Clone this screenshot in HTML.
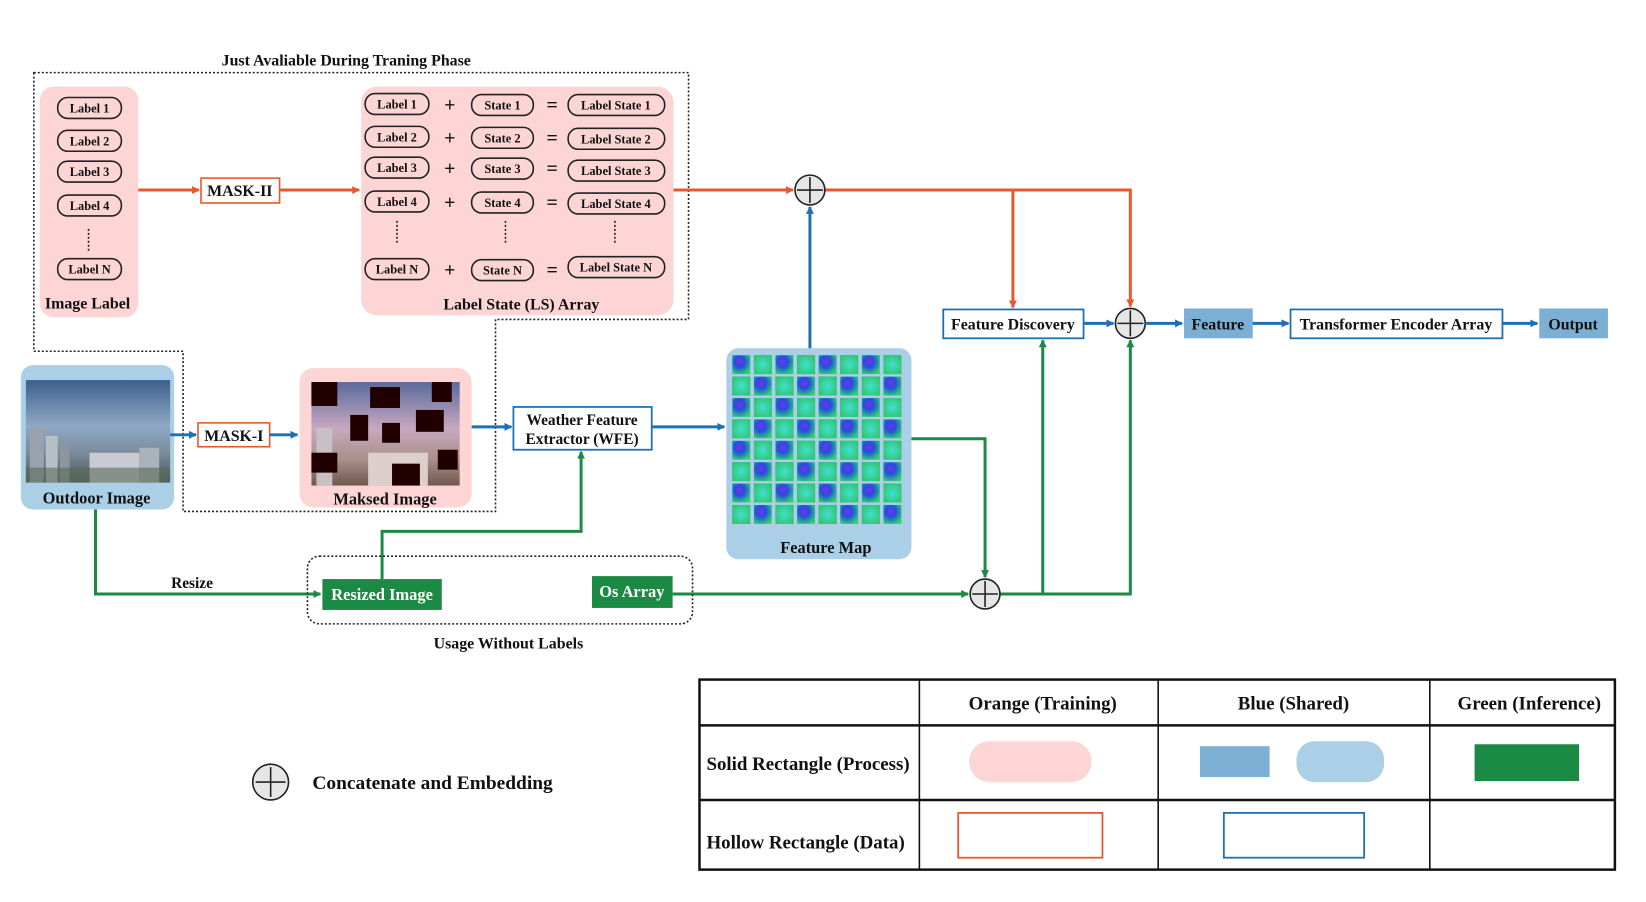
<!DOCTYPE html>
<html><head><meta charset="utf-8"><style>
html,body{margin:0;padding:0;background:#fff;}
svg{display:block;}
text{font-family:"Liberation Serif",serif;font-weight:bold;fill:#111;}
</style></head><body>
<svg width="1646" height="902" viewBox="0 0 1646 902" xmlns="http://www.w3.org/2000/svg">
<defs>
<marker id="ao" markerWidth="8" markerHeight="8" refX="7" refY="4" orient="auto" markerUnits="userSpaceOnUse"><path d="M0,0 L8,4 L0,8 Z" fill="#e8582e"/></marker>
<marker id="ab" markerWidth="8" markerHeight="8" refX="7" refY="4" orient="auto" markerUnits="userSpaceOnUse"><path d="M0,0 L8,4 L0,8 Z" fill="#1f6fb5"/></marker>
<marker id="ag" markerWidth="8" markerHeight="8" refX="7" refY="4" orient="auto" markerUnits="userSpaceOnUse"><path d="M0,0 L8,4 L0,8 Z" fill="#1a8a44"/></marker>
<linearGradient id="sky" x1="0" y1="0" x2="0" y2="1"><stop offset="0" stop-color="#3e5f8c"/><stop offset="0.45" stop-color="#8fa9c6"/><stop offset="0.7" stop-color="#7c8c9c"/><stop offset="1" stop-color="#4a5a5a"/></linearGradient>
<linearGradient id="sky2" x1="0" y1="0" x2="0" y2="1"><stop offset="0" stop-color="#5a6a9c"/><stop offset="0.45" stop-color="#c8a8c0"/><stop offset="0.75" stop-color="#a89088"/><stop offset="1" stop-color="#705850"/></linearGradient>
<radialGradient id="t1" cx="0.4" cy="0.35" r="0.7"><stop offset="0" stop-color="#8a2be2"/><stop offset="0.4" stop-color="#2050e0"/><stop offset="1" stop-color="#30d070"/></radialGradient>
<radialGradient id="t2" cx="0.5" cy="0.5" r="0.7"><stop offset="0" stop-color="#40e0d0"/><stop offset="1" stop-color="#30c060"/></radialGradient>
<pattern id="fm" x="735" y="356" width="21.7" height="21.5" patternUnits="userSpaceOnUse">
<rect x="1" y="1" width="18" height="19" fill="url(#t1)"/>
</pattern>
<pattern id="fm2" x="756.7" y="356" width="43.4" height="43" patternUnits="userSpaceOnUse">
<rect x="1" y="1" width="18" height="19" fill="url(#t2)"/>
<rect x="22.7" y="22.5" width="18" height="19" fill="url(#t2)"/>
</pattern>
</defs>
<g transform="scale(0.995)">

<text x="348" y="66" font-size="16" text-anchor="middle">Just Avaliable During Traning Phase</text>
<path d="M34,73 L692,73 L692,321 L498,321 L498,514 L184,514 L184,353 L34,353 Z" fill="none" stroke="#222" stroke-width="1.6" stroke-dasharray="2,2"/>

<rect x="40" y="87" width="99" height="232" rx="14" fill="#fdd5d5"/>
<g stroke="#222" stroke-width="1.6" fill="none">
<rect x="58" y="98" width="64" height="21" rx="10"/>
<rect x="58" y="131" width="64" height="21" rx="10"/>
<rect x="58" y="162" width="64" height="21" rx="10"/>
<rect x="58" y="196" width="64" height="21" rx="10"/>
<rect x="58" y="260" width="64" height="21" rx="10"/>
</g>
<g font-size="12.5" text-anchor="middle">
<text x="90" y="113">Label 1</text><text x="90" y="146">Label 2</text><text x="90" y="177">Label 3</text><text x="90" y="211">Label 4</text><text x="90" y="275">Label N</text>
</g>
<line x1="89" y1="230" x2="89" y2="253" stroke="#222" stroke-width="1.6" stroke-dasharray="2,2"/>
<text x="88" y="310" font-size="16" text-anchor="middle">Image Label</text>

<line x1="139" y1="191" x2="200" y2="191" stroke="#e8582e" stroke-width="3" marker-end="url(#ao)"/>
<rect x="202" y="179" width="79" height="25" fill="#fff" stroke="#e8582e" stroke-width="1.6"/>
<text x="241" y="197" font-size="16" text-anchor="middle">MASK-II</text>
<line x1="281" y1="191" x2="361" y2="191" stroke="#e8582e" stroke-width="3" marker-end="url(#ao)"/>

<rect x="363" y="87" width="314" height="230" rx="16" fill="#fdd5d5"/>
<g stroke="#222" stroke-width="1.6" fill="none">
<rect x="367" y="94" width="64" height="21" rx="10"/><rect x="474" y="95" width="62" height="21" rx="10"/><rect x="571" y="95" width="97" height="21" rx="10"/>
<rect x="367" y="127" width="64" height="21" rx="10"/><rect x="474" y="128" width="62" height="21" rx="10"/><rect x="571" y="129" width="97" height="21" rx="10"/>
<rect x="367" y="158" width="64" height="21" rx="10"/><rect x="474" y="159" width="62" height="21" rx="10"/><rect x="571" y="161" width="97" height="21" rx="10"/>
<rect x="367" y="192" width="64" height="21" rx="10"/><rect x="474" y="193" width="62" height="21" rx="10"/><rect x="571" y="194" width="97" height="21" rx="10"/>
<rect x="367" y="260" width="64" height="21" rx="10"/><rect x="474" y="261" width="62" height="21" rx="10"/><rect x="571" y="258" width="97" height="21" rx="10"/>
</g>
<g font-size="12.5" text-anchor="middle">
<text x="399" y="109">Label 1</text><text x="505" y="110">State 1</text><text x="619" y="110">Label State 1</text>
<text x="399" y="142">Label 2</text><text x="505" y="143">State 2</text><text x="619" y="144">Label State 2</text>
<text x="399" y="173">Label 3</text><text x="505" y="174">State 3</text><text x="619" y="176">Label State 3</text>
<text x="399" y="207">Label 4</text><text x="505" y="208">State 4</text><text x="619" y="209">Label State 4</text>
<text x="399" y="275">Label N</text><text x="505" y="276">State N</text><text x="619" y="273">Label State N</text>
</g>
<g font-size="20" text-anchor="middle" font-weight="normal">
<text x="452" y="112">+</text><text x="555" y="112">=</text>
<text x="452" y="145">+</text><text x="555" y="145">=</text>
<text x="452" y="176">+</text><text x="555" y="176">=</text>
<text x="452" y="210">+</text><text x="555" y="210">=</text>
<text x="452" y="278">+</text><text x="555" y="278">=</text>
</g>
<g stroke="#222" stroke-width="1.6" stroke-dasharray="2,2">
<line x1="399" y1="222" x2="399" y2="245"/><line x1="508" y1="222" x2="508" y2="245"/><line x1="618" y1="222" x2="618" y2="245"/>
</g>
<text x="524" y="311" font-size="16" text-anchor="middle">Label State (LS) Array</text>

<line x1="677" y1="191" x2="797" y2="191" stroke="#e8582e" stroke-width="3" marker-end="url(#ao)"/>
<path d="M829,191 L1136,191 L1136,308" fill="none" stroke="#e8582e" stroke-width="3" marker-end="url(#ao)"/>
<line x1="1018" y1="191" x2="1018" y2="309" stroke="#e8582e" stroke-width="3" marker-end="url(#ao)"/>

<rect x="21" y="367" width="154" height="145" rx="12" fill="#aacfe6"/>
<rect x="26" y="382" width="145" height="103" fill="url(#sky)"/>
<rect x="30" y="430" width="14" height="55" fill="#9aa3ad"/><rect x="46" y="438" width="12" height="47" fill="#b8bfc6"/><rect x="60" y="445" width="10" height="40" fill="#8d96a0"/>
<rect x="90" y="455" width="50" height="30" fill="#c8ccd2"/><rect x="140" y="450" width="20" height="35" fill="#aab2ba"/>
<rect x="26" y="470" width="145" height="15" fill="#5a6a58" opacity="0.6"/>
<text x="97" y="506" font-size="16.5" text-anchor="middle">Outdoor Image</text>

<line x1="171" y1="437" x2="197" y2="437" stroke="#1f6fb5" stroke-width="3" marker-end="url(#ab)"/>
<rect x="199" y="425" width="72" height="24" fill="#fff" stroke="#e8582e" stroke-width="1.6"/>
<text x="235" y="443" font-size="16" text-anchor="middle">MASK-I</text>
<line x1="271" y1="437" x2="299" y2="437" stroke="#1f6fb5" stroke-width="3" marker-end="url(#ab)"/>

<rect x="301" y="370" width="173" height="140" rx="14" fill="#fdd5d5"/>
<rect x="313" y="384" width="149" height="104" fill="url(#sky2)"/>
<rect x="318" y="430" width="16" height="58" fill="#c8c0c4"/><rect x="370" y="455" width="60" height="33" fill="#ddd0cc"/>
<g fill="#200000">
<rect x="313" y="384" width="26" height="24"/><rect x="372" y="389" width="30" height="21"/><rect x="434" y="384" width="20" height="20"/>
<rect x="418" y="412" width="28" height="22"/><rect x="352" y="417" width="18" height="26"/><rect x="384" y="425" width="18" height="20"/>
<rect x="313" y="455" width="26" height="20"/><rect x="440" y="452" width="20" height="20"/><rect x="394" y="466" width="28" height="22"/>
</g>
<text x="387" y="507" font-size="16.5" text-anchor="middle">Maksed Image</text>

<line x1="474" y1="429" x2="514" y2="429" stroke="#1f6fb5" stroke-width="3" marker-end="url(#ab)"/>
<rect x="516" y="409" width="139" height="43" fill="#fff" stroke="#1f6fb5" stroke-width="1.8"/>
<text x="585" y="427" font-size="15.5" text-anchor="middle">Weather Feature</text>
<text x="585" y="446" font-size="15.5" text-anchor="middle">Extractor (WFE)</text>
<line x1="655" y1="429" x2="728" y2="429" stroke="#1f6fb5" stroke-width="3" marker-end="url(#ab)"/>

<rect x="730" y="350" width="186" height="212" rx="12" fill="#aacfe6"/>
<rect x="735" y="356" width="174" height="172" fill="url(#fm)"/>
<rect x="735" y="356" width="174" height="172" fill="url(#fm2)"/>
<text x="830" y="556" font-size="16.5" text-anchor="middle">Feature Map</text>

<line x1="814" y1="350" x2="814" y2="208" stroke="#1f6fb5" stroke-width="3" marker-end="url(#ab)"/>
<circle cx="814" cy="191" r="15" fill="#e6e6e6" stroke="#222" stroke-width="1.6"/>
<line x1="801" y1="191" x2="827" y2="191" stroke="#222" stroke-width="1.6"/><line x1="814" y1="178" x2="814" y2="204" stroke="#222" stroke-width="1.6"/>

<rect x="948" y="311" width="141" height="29" fill="#fff" stroke="#1f6fb5" stroke-width="1.8"/>
<text x="1018" y="331" font-size="16" text-anchor="middle">Feature Discovery</text>
<line x1="1089" y1="325" x2="1119" y2="325" stroke="#1f6fb5" stroke-width="3" marker-end="url(#ab)"/>
<circle cx="1136" cy="325" r="15" fill="#e6e6e6" stroke="#222" stroke-width="1.6"/>
<line x1="1123" y1="325" x2="1149" y2="325" stroke="#222" stroke-width="1.6"/><line x1="1136" y1="312" x2="1136" y2="338" stroke="#222" stroke-width="1.6"/>
<line x1="1151" y1="325" x2="1188" y2="325" stroke="#1f6fb5" stroke-width="3" marker-end="url(#ab)"/>
<rect x="1190" y="310" width="69" height="30" fill="#7bafd4"/>
<text x="1224" y="331" font-size="16" text-anchor="middle">Feature</text>
<line x1="1259" y1="325" x2="1295" y2="325" stroke="#1f6fb5" stroke-width="3" marker-end="url(#ab)"/>
<rect x="1297" y="311" width="213" height="29" fill="#fff" stroke="#1f6fb5" stroke-width="1.8"/>
<text x="1403" y="331" font-size="16" text-anchor="middle">Transformer Encoder Array</text>
<line x1="1510" y1="325" x2="1545" y2="325" stroke="#1f6fb5" stroke-width="3" marker-end="url(#ab)"/>
<rect x="1547" y="310" width="69" height="30" fill="#7bafd4"/>
<text x="1581" y="331" font-size="16" text-anchor="middle">Output</text>

<path d="M916,441 L990,441 L990,580" fill="none" stroke="#1a8a44" stroke-width="3" marker-end="url(#ag)"/>
<path d="M96,512 L96,597 L322,597" fill="none" stroke="#1a8a44" stroke-width="3" marker-end="url(#ag)"/>
<text x="193" y="591" font-size="15.5" text-anchor="middle">Resize</text>
<path d="M384,582 L384,534 L584,534 L584,454" fill="none" stroke="#1a8a44" stroke-width="3" marker-end="url(#ag)"/>
<line x1="676" y1="597" x2="973" y2="597" stroke="#1a8a44" stroke-width="3" marker-end="url(#ag)"/>
<path d="M1005,597 L1136,597 L1136,342" fill="none" stroke="#1a8a44" stroke-width="3" marker-end="url(#ag)"/>
<line x1="1048" y1="597" x2="1048" y2="342" stroke="#1a8a44" stroke-width="3" marker-end="url(#ag)"/>
<circle cx="990" cy="597" r="15" fill="#e6e6e6" stroke="#222" stroke-width="1.6"/>
<line x1="977" y1="597" x2="1003" y2="597" stroke="#222" stroke-width="1.6"/><line x1="990" y1="584" x2="990" y2="610" stroke="#222" stroke-width="1.6"/>

<rect x="309" y="559" width="387" height="68" rx="12" fill="none" stroke="#222" stroke-width="1.6" stroke-dasharray="2,2"/>
<rect x="324" y="582" width="120" height="31" fill="#1a8a44"/>
<text x="384" y="603" font-size="16.5" text-anchor="middle" style="fill:#fff">Resized Image</text>
<rect x="595" y="579" width="81" height="32" fill="#1a8a44"/>
<text x="635" y="600" font-size="16.5" text-anchor="middle" style="fill:#fff">Os Array</text>
<text x="511" y="652" font-size="16" text-anchor="middle">Usage Without Labels</text>

<circle cx="272" cy="786" r="18" fill="#e6e6e6" stroke="#222" stroke-width="1.6"/>
<line x1="257" y1="786" x2="287" y2="786" stroke="#222" stroke-width="1.6"/><line x1="272" y1="771" x2="272" y2="801" stroke="#222" stroke-width="1.6"/>
<text x="314" y="793" font-size="19.5">Concatenate and Embedding</text>

<g stroke="#111" fill="none">
<rect x="703" y="683" width="920" height="191" stroke-width="2.5"/>
<line x1="703" y1="729" x2="1623" y2="729" stroke-width="2.5"/>
<line x1="703" y1="804" x2="1623" y2="804" stroke-width="2.5"/>
<line x1="924" y1="683" x2="924" y2="874" stroke-width="1.6"/>
<line x1="1164" y1="683" x2="1164" y2="874" stroke-width="1.6"/>
<line x1="1437" y1="683" x2="1437" y2="874" stroke-width="1.6"/>
</g>
<g font-size="19" text-anchor="middle">
<text x="1048" y="713">Orange (Training)</text>
<text x="1300" y="713">Blue (Shared)</text>
<text x="1537" y="713">Green (Inference)</text>
</g>
<text x="710" y="774" font-size="19">Solid Rectangle (Process)</text>
<text x="710" y="853" font-size="19">Hollow Rectangle (Data)</text>
<rect x="974" y="745" width="123" height="41" rx="20" fill="#fdd5d5"/>
<rect x="1206" y="750" width="70" height="31" fill="#7bafd4"/>
<rect x="1303" y="745" width="88" height="41" rx="18" fill="#aacfe6"/>
<rect x="1482" y="748" width="105" height="37" fill="#1a8a44"/>
<rect x="963" y="817" width="145" height="45" fill="#fff" stroke="#e8582e" stroke-width="1.8"/>
<rect x="1230" y="817" width="141" height="45" fill="#fff" stroke="#1f6fb5" stroke-width="1.8"/>
</g>
</svg>
</body></html>
